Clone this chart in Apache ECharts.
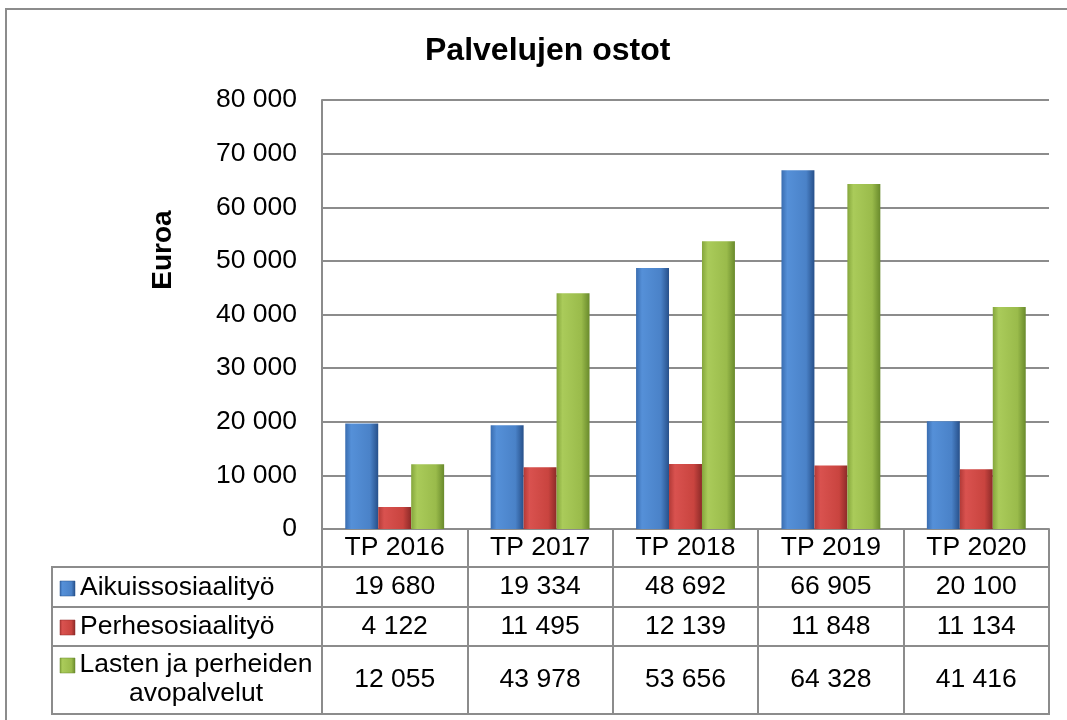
<!DOCTYPE html>
<html>
<head>
<meta charset="utf-8">
<script src="https://cdn.jsdelivr.net/npm/echarts@6/dist/echarts.min.js"></script>
<style>
  html, body { margin: 0; padding: 0; background: #fff; }
  #chart { width: 1067px; height: 720px; }
</style>
</head>
<body>
<div id="chart"></div>
<script>
var categories = ['TP 2016', 'TP 2017', 'TP 2018', 'TP 2019', 'TP 2020']
var aikuis = [19680, 19334, 48692, 66905, 20100]
var perhe = [4122, 11495, 12139, 11848, 11134]
var lasten = [12055, 43978, 53656, 64328, 41416]
var yTicks = [0, 10000, 20000, 30000, 40000, 50000, 60000, 70000, 80000]

var seriesNames = ['Aikuissosiaalityö', 'Perhesosiaalityö', 'Lasten ja perheiden\navopalvelut']

var FONT = 'Liberation Sans, Arial, sans-serif'
var FS = 26.5
var LINE = '#8c8c8c'

// tuhaterotin välilyönnillä
function fmt (v) {
  return String(v).replace(/\B(?=(\d{3})+(?!\d))/g, ' ')
}

function bevel (edge, light, mid, dark) {
  return new echarts.graphic.LinearGradient(0, 0, 1, 0, [
    { offset: 0, color: edge },
    { offset: 0.18, color: light },
    { offset: 0.75, color: mid },
    { offset: 1, color: dark }
  ])
}

var colors = [
  ['#3a6db0', '#5590d8', '#4a82c8', '#27508a'],
  ['#b23a37', '#d9524f', '#c9443f', '#8c2a28'],
  ['#85a63c', '#aacb5a', '#9abb4b', '#698a2c']
]

// taulukon rivien keskikohdat (y)
var gridBottomY = 529
var rowCenters = [587, 626.5, 680]
var rowData = [aikuis, perhe, lasten]

var chart = echarts.init(document.getElementById('chart'))

var xAxes = [{
  type: 'category',
  data: categories,
  position: 'bottom',
  axisLine: { show: true, lineStyle: { color: LINE, width: 2 } },
  axisTick: { show: true, length: 186, lineStyle: { color: LINE, width: 2 } },
  axisLabel: {
    interval: 0,
    margin: 19,
    verticalAlign: 'middle',
    color: '#000',
    fontSize: FS,
    fontFamily: FONT
  }
}]
rowData.forEach(function (arr, i) {
  xAxes.push({
    type: 'category',
    data: arr.map(fmt),
    position: 'bottom',
    offset: rowCenters[i] - gridBottomY,
    axisLine: { show: false },
    axisTick: { show: false },
    axisLabel: {
      interval: 0,
      margin: 0,
      verticalAlign: 'middle',
      color: '#000',
      fontSize: FS,
      fontFamily: FONT
    }
  })
})

var series = [aikuis, perhe, lasten].map(function (arr, i) {
  return {
    name: seriesNames[i],
    type: 'bar',
    xAxisIndex: 0,
    barGap: 0,
    barCategoryGap: '32%',
    itemStyle: {
      color: bevel(colors[i][0], colors[i][1], colors[i][2], colors[i][3])
    },
    data: arr
  }
})

// legendan solut taulukon vasemmassa sarakkeessa
var legendRows = [
  { y: 588, lines: ['Aikuissosiaalityö'] },
  { y: 627, lines: ['Perhesosiaalityö'] },
  { y: 665, lines: ['Lasten ja perheiden', 'avopalvelut'] }
]
var graphics = [
  { type: 'rect', shape: { x: 6, y: 9, width: 1080, height: 720 }, style: { fill: 'none', stroke: LINE, lineWidth: 2 }, silent: true },
  { type: 'text', x: 163, y: 250, rotation: Math.PI / 2, style: { text: 'Euroa', fontSize: 28, fontWeight: 'bold', fontFamily: FONT, fill: '#000', align: 'center', verticalAlign: 'middle' } }
]
// taulukon viivat
;[567, 607, 646, 714].forEach(function (y) {
  graphics.push({ type: 'line', shape: { x1: 52, y1: y, x2: 1049, y2: y }, style: { stroke: LINE, lineWidth: 2 } })
})
graphics.push({ type: 'line', shape: { x1: 52, y1: 566, x2: 52, y2: 715 }, style: { stroke: LINE, lineWidth: 2 } })

legendRows.forEach(function (r, i) {
  var c = colors[i]
  graphics.push({
    type: 'rect',
    shape: { x: 60, y: r.y - 7, width: 15, height: 15 },
    style: { fill: bevel(c[0], c[1], c[2], c[3]), stroke: c[3], lineWidth: 0.5 }
  })
  if (r.lines.length === 1) {
    graphics.push({ type: 'text', x: 80, y: r.y, style: { text: r.lines[0], fontSize: FS, fontFamily: FONT, fill: '#000', align: 'left', verticalAlign: 'middle' } })
  } else {
    graphics.push({ type: 'text', x: 196, y: r.y, style: { text: r.lines[0], fontSize: FS, fontFamily: FONT, fill: '#000', align: 'center', verticalAlign: 'middle' } })
    graphics.push({ type: 'text', x: 196, y: r.y + 29, style: { text: r.lines[1], fontSize: FS, fontFamily: FONT, fill: '#000', align: 'center', verticalAlign: 'middle' } })
  }
})

chart.setOption({
  animation: false,
  backgroundColor: '#fff',
  title: {
    text: 'Palvelujen ostot',
    left: 420,
    top: 30,
    textStyle: { fontSize: 32, fontWeight: 'bold', fontFamily: FONT, color: '#000' }
  },
  grid: { left: 322, right: 18, top: 100, bottom: 720 - gridBottomY },
  xAxis: xAxes,
  yAxis: {
    type: 'value',
    min: yTicks[0],
    max: yTicks[yTicks.length - 1],
    interval: yTicks[1] - yTicks[0],
    axisLine: { show: true, lineStyle: { color: LINE, width: 2 } },
    axisTick: { show: false },
    axisLabel: { margin: 25, color: '#000', fontSize: FS, fontFamily: FONT, formatter: fmt },
    splitLine: { lineStyle: { color: LINE, width: 2 } }
  },
  series: series,
  graphic: graphics
})
</script>
</body>
</html>
